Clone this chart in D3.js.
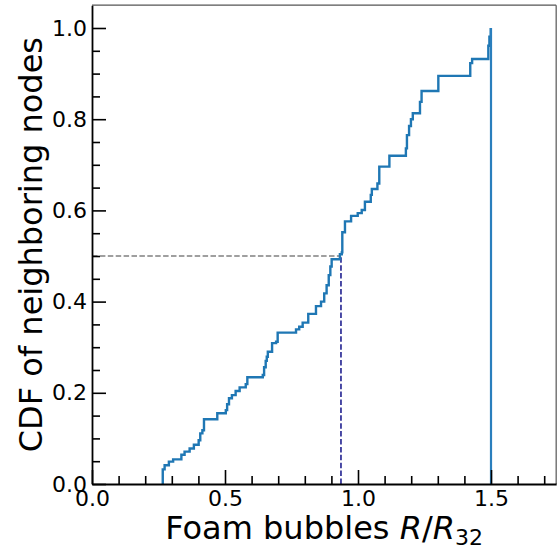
<!DOCTYPE html>
<html>
<head>
<meta charset="utf-8">
<script src="https://cdn.jsdelivr.net/npm/d3@7"></script>
<style>
html, body { margin: 0; padding: 0; background: #fff; }
svg { display: block; font-family: "DejaVu Sans", sans-serif; }
</style>
</head>
<body>
<svg id="chart" width="557" height="550"></svg>
<script>
// Step positions (R/R32) and CDF value after each step
const stepX = [0.266, 0.273, 0.289, 0.305, 0.336, 0.348, 0.367, 0.383, 0.401, 0.407,
  0.415, 0.421, 0.471, 0.503, 0.508, 0.515, 0.526, 0.540, 0.555, 0.578,
  0.584, 0.642, 0.647, 0.653, 0.657, 0.661, 0.677, 0.692, 0.698, 0.767,
  0.779, 0.792, 0.813, 0.842, 0.861, 0.873, 0.882, 0.890, 0.896, 0.901,
  0.932, 0.939, 0.941, 0.951, 0.974, 0.999, 1.014, 1.026, 1.048, 1.052,
  1.073, 1.080, 1.118, 1.180, 1.184, 1.192, 1.199, 1.206, 1.233, 1.239,
  1.302, 1.422, 1.429, 1.490, 1.494, 1.499];
const stepY = [0.032, 0.041, 0.049, 0.054, 0.064, 0.071, 0.078, 0.086, 0.096, 0.111,
  0.118, 0.142, 0.155, 0.162, 0.175, 0.188, 0.195, 0.204, 0.212, 0.219,
  0.234, 0.239, 0.256, 0.270, 0.279, 0.290, 0.309, 0.312, 0.332, 0.339,
  0.345, 0.354, 0.373, 0.390, 0.400, 0.418, 0.436, 0.458, 0.477, 0.493,
  0.504, 0.508, 0.552, 0.576, 0.588, 0.594, 0.601, 0.619, 0.634, 0.647,
  0.659, 0.696, 0.720, 0.736, 0.765, 0.785, 0.800, 0.813, 0.838, 0.862,
  0.895, 0.923, 0.932, 0.961, 0.981, 1.000];
const medianX = 0.936;
const medianY = 0.5;
const maxLineX = 1.5;
const xDomain = [0, 1.745];
const yDomain = [0, 1.05];
const xMajorTicks = [0.0, 0.5, 1.0, 1.5];
const xTickLabels = ["0.0", "0.5", "1.0", "1.5"];
const yMajorTicks = [0.0, 0.2, 0.4, 0.6, 0.8, 1.0];
const yTickLabels = ["0.0", "0.2", "0.4", "0.6", "0.8", "1.0"];
const xMinorTicks = [0.1, 0.2, 0.3, 0.4, 0.6, 0.7, 0.8, 0.9, 1.1, 1.2, 1.3, 1.4, 1.6, 1.7];
const yMinorTicks = [0.05, 0.1, 0.15, 0.25, 0.3, 0.35, 0.45, 0.5, 0.55, 0.65, 0.7, 0.75, 0.85, 0.9, 0.95];

const svg = d3.select("#chart");
const x0 = 92, pxPerX = 266, y0 = 484, pxPerY = 456;
const x = d3.scaleLinear().domain(xDomain).range([x0, x0 + xDomain[1] * pxPerX]);
const y = d3.scaleLinear().domain(yDomain).range([y0, y0 - yDomain[1] * pxPerY]);

// frame (top/right thinner)
svg.append("line").attr("x1", x.range()[0]).attr("x2", x.range()[1]).attr("y1", y.range()[1]).attr("y2", y.range()[1])
  .attr("stroke", "#555").attr("stroke-width", 1.2);
svg.append("line").attr("x1", x.range()[1]).attr("x2", x.range()[1]).attr("y1", y.range()[0]).attr("y2", y.range()[1])
  .attr("stroke", "#555").attr("stroke-width", 1.2);

// data points for the CDF step curve
const pts = [[stepX[0], 0]].concat(stepX.map((v, i) => [v, stepY[i]]));
const line = d3.line().x(d => x(d[0])).y(d => y(d[1])).curve(d3.curveStepAfter);

// median guides
svg.append("line")
  .attr("x1", x(0)).attr("x2", x(medianX)).attr("y1", y(medianY)).attr("y2", y(medianY))
  .attr("stroke", "#808080").attr("stroke-width", 1.4).attr("stroke-dasharray", "5.5,2.4");
svg.append("line")
  .attr("x1", x(medianX)).attr("x2", x(medianX)).attr("y1", y(0)).attr("y2", y(medianY))
  .attr("stroke", "#000080").attr("stroke-width", 1.4).attr("stroke-dasharray", "5.5,2.4");

svg.append("path").datum(pts).attr("d", line)
  .attr("fill", "none").attr("stroke", "#1f77b4").attr("stroke-width", 2.4).attr("stroke-linejoin", "miter");

// vertical line at max
svg.append("line")
  .attr("x1", x(maxLineX)).attr("x2", x(maxLineX)).attr("y1", y(0)).attr("y2", y(1))
  .attr("stroke", "#2a7fbd").attr("stroke-width", 2.2);

// axes
const fmtX = d => xTickLabels[xMajorTicks.indexOf(d)];
const fmtY = d => yTickLabels[yMajorTicks.indexOf(d)];
const xAxis = svg.append("g").attr("transform", `translate(0,${y0})`)
  .call(d3.axisBottom(x).tickValues(xMajorTicks).tickFormat(fmtX).tickSizeInner(-14).tickSizeOuter(0).tickPadding(6));
const xMinor = svg.append("g").attr("transform", `translate(0,${y0})`)
  .call(d3.axisBottom(x).tickValues(xMinorTicks).tickFormat("").tickSizeInner(-8).tickSizeOuter(0));
const yAxis = svg.append("g").attr("transform", `translate(${x0},0)`)
  .call(d3.axisLeft(y).tickValues(yMajorTicks).tickFormat(fmtY).tickSizeInner(-14).tickSizeOuter(0).tickPadding(5));
const yMinor = svg.append("g").attr("transform", `translate(${x0},0)`)
  .call(d3.axisLeft(y).tickValues(yMinorTicks).tickFormat("").tickSizeInner(-8).tickSizeOuter(0));

[xAxis, yAxis, xMinor, yMinor].forEach(g => {
  g.select(".domain").attr("stroke", "#000").attr("stroke-width", 1.8);
  g.selectAll(".tick line").attr("stroke", "#000").attr("stroke-width", 1.6);
  g.selectAll(".tick text").attr("fill", "#000").style("font-family", "DejaVu Sans").style("font-size", "22px");
});
xMinor.select(".domain").remove();
yMinor.select(".domain").remove();

// axis labels
const xl = svg.append("text").attr("x", (x.range()[0] + x.range()[1]) / 2).attr("y", 539)
  .attr("text-anchor", "middle").style("font-size", "32px").attr("fill", "#000");
xl.append("tspan").text("Foam bubbles ");
xl.append("tspan").style("font-style", "italic").text("R");
xl.append("tspan").text("/");
xl.append("tspan").style("font-style", "italic").text("R");
xl.append("tspan").attr("dy", 6).style("font-size", "22px").text("32");

svg.append("text").attr("transform", `translate(42,${(y.range()[0] + y.range()[1]) / 2}) rotate(-90)`)
  .attr("text-anchor", "middle").style("font-size", "32px").attr("fill", "#000")
  .text("CDF of neighboring nodes");
</script>
</body>
</html>
